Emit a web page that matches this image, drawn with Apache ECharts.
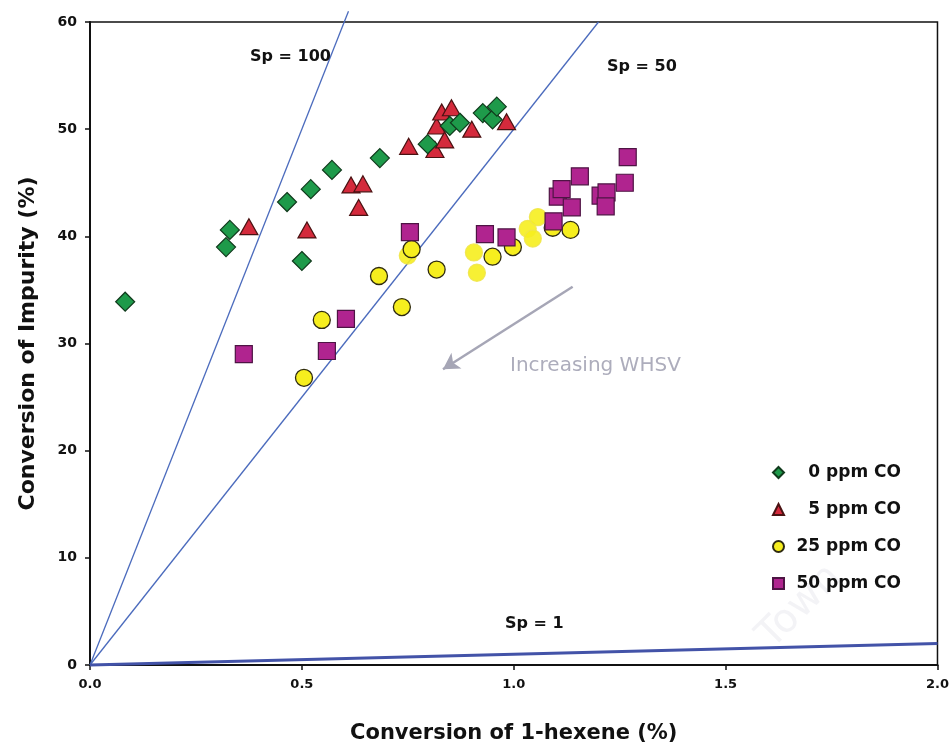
<!DOCTYPE html>
<html>
<head>
<meta charset="utf-8">
<script src="https://cdn.jsdelivr.net/npm/echarts@6/dist/echarts.min.js"></script>
<style>
  html, body { margin: 0; padding: 0; background: #fff; }
  #chart { width: 952px; height: 749px; }
</style>
</head>
<body>
<div id="chart"></div>
<script>
// Conversion of 1-hexene (x, %) vs conversion of impurity (y, %) at four CO levels
const co0ppm = [
  [0.083, 33.9], [0.321, 39.0], [0.330, 40.6], [0.465, 43.2], [0.500, 37.7],
  [0.521, 44.4], [0.571, 46.2], [0.684, 47.3], [0.797, 48.6], [0.849, 50.3],
  [0.873, 50.6], [0.927, 51.5], [0.950, 50.9], [0.960, 52.1]
];
const co5ppm = [
  [0.375, 40.9], [0.512, 40.6], [0.616, 44.8], [0.644, 44.9], [0.634, 42.7],
  [0.752, 48.4], [0.814, 48.1], [0.818, 50.3], [0.830, 51.6], [0.853, 52.0],
  [0.837, 49.0], [0.901, 50.0], [0.983, 50.7]
];
const co25ppm = [
  [0.505, 26.8], [0.547, 32.2], [0.682, 36.3], [0.736, 33.4], [0.759, 38.8],
  [0.818, 36.9], [0.950, 38.1], [0.998, 39.0], [1.092, 40.8], [1.134, 40.6]
];
// 25 ppm runs printed without an outline
const co25ppmPale = [
  [0.750, 38.2], [0.906, 38.5], [0.913, 36.6], [1.033, 40.7], [1.045, 39.8], [1.057, 41.8]
];
const co50ppm = [
  [0.363, 29.0], [0.559, 29.3], [0.604, 32.3], [0.755, 40.4], [0.932, 40.2],
  [0.983, 39.9], [1.094, 41.4], [1.104, 43.7], [1.113, 44.4], [1.156, 45.6],
  [1.137, 42.7], [1.205, 43.8], [1.219, 44.1], [1.217, 42.8], [1.262, 45.0],
  [1.269, 47.4]
];
// Constant-selectivity reference lines (end points)
const sp100Line = [[0, 0], [0.61, 61]];
const sp50Line = [[0, 0], [1.2, 60]];
const sp1Line = [[0, 0], [2.0, 2.0]];
// WHSV trend arrow (start, end)
const whsvArrow = [[1.139, 35.3], [0.833, 27.6]];

const seriesNames = ['0 ppm CO', '5 ppm CO', '25 ppm CO', '50 ppm CO'];
const xTicks = { min: 0, max: 2, step: 0.5 };
const yTicks = { min: 0, max: 60, step: 10 };

const FONT = 'DejaVu Sans, Verdana, sans-serif';
const chart = echarts.init(document.getElementById('chart'), null, { renderer: 'canvas' });

function refLine(data, width, color) {
  return {
    type: 'line', data: data, symbol: 'none', clip: false, silent: true,
    lineStyle: { width: width, color: color }, z: 1
  };
}

const option = {
  animation: false,
  backgroundColor: '#ffffff',
  grid: {
    left: 90, right: 12, top: 22, bottom: 83,
    show: true, borderColor: '#111', borderWidth: 1.5, backgroundColor: 'transparent'
  },
  legend: {
    data: seriesNames,
    orient: 'vertical',
    left: 772, top: 464, padding: 0,
    itemWidth: 11, itemHeight: 11, itemGap: 20,
    formatter: name => '{t|' + name + '}',
    textStyle: {
      rich: { t: { fontFamily: FONT, fontWeight: 'bold', fontSize: 17, color: '#111', width: 112, align: 'right' } }
    }
  },
  xAxis: {
    type: 'value', min: xTicks.min, max: xTicks.max, interval: xTicks.step,
    name: 'Conversion of 1-hexene (%)', nameLocation: 'middle', nameGap: 58,
    nameTextStyle: { fontFamily: FONT, fontWeight: 'bold', fontSize: 21, color: '#111' },
    axisLine: { show: true, onZero: false, lineStyle: { color: '#111', width: 2 } },
    axisTick: { show: true, length: 5, lineStyle: { color: '#111', width: 1.5 } },
    splitLine: { show: false },
    axisLabel: { formatter: v => v.toFixed(1), fontFamily: FONT, fontWeight: 'bold', fontSize: 13, color: '#111', margin: 13 }
  },
  yAxis: {
    type: 'value', min: yTicks.min, max: yTicks.max, interval: yTicks.step,
    name: 'Conversion of Impurity (%)', nameLocation: 'middle', nameGap: 51,
    nameTextStyle: { fontFamily: FONT, fontWeight: 'bold', fontSize: 22, color: '#111' },
    axisLine: { show: true, onZero: false, lineStyle: { color: '#111', width: 2 } },
    axisTick: { show: true, length: 5, lineStyle: { color: '#111', width: 1.5 } },
    splitLine: { show: false },
    axisLabel: { fontFamily: FONT, fontWeight: 'bold', fontSize: 14, color: '#111', margin: 13 }
  },
  series: [
    refLine(sp100Line, 1.3, '#4b6bbd'),
    refLine(sp50Line, 1.3, '#4b6bbd'),
    Object.assign(refLine(sp1Line, 3, '#4353a8'), {
      markLine: {
        silent: true, symbol: ['none', 'arrow'], symbolSize: [14, 16],
        lineStyle: { color: '#a6a6b6', width: 2.5, type: 'solid' },
        label: { show: false },
        data: [[{ coord: whsvArrow[0] }, { coord: whsvArrow[1] }]]
      }
    }),
    {
      name: '5 ppm CO', type: 'scatter', data: co5ppm, z: 3,
      symbol: 'triangle', symbolSize: [18, 16],
      itemStyle: { color: '#d42a3c', borderColor: '#4a1212', borderWidth: 1.2, opacity: 1 }
    },
    {
      name: '0 ppm CO', type: 'scatter', data: co0ppm, z: 4,
      symbol: 'diamond', symbolSize: 19,
      itemStyle: { color: '#1e9a4a', borderColor: '#103a1c', borderWidth: 1.2, opacity: 1 }
    },
    {
      name: '25 ppm CO', type: 'scatter', z: 5,
      data: co25ppmPale.map(p => ({ value: p, itemStyle: { borderColor: '#efe64a', opacity: 0.9 } }))
        .concat(co25ppm),
      symbol: 'circle', symbolSize: 17,
      itemStyle: { color: '#f6ee1e', borderColor: '#2e2a10', borderWidth: 1.3, opacity: 1 }
    },
    {
      name: '50 ppm CO', type: 'scatter', data: co50ppm, z: 6,
      symbol: 'rect', symbolSize: 17,
      itemStyle: { color: '#b0248f', borderColor: '#4e1444', borderWidth: 1.2, opacity: 1 }
    }
  ],
  graphic: [
    { type: 'text', left: 250, top: 49, z: 10, style: { text: 'Sp = 100', fontFamily: FONT, fontWeight: 'bold', fontSize: 16, fill: '#111' } },
    { type: 'text', left: 607, top: 59, z: 10, style: { text: 'Sp = 50', fontFamily: FONT, fontWeight: 'bold', fontSize: 16, fill: '#111' } },
    { type: 'text', left: 505, top: 616, z: 10, style: { text: 'Sp = 1', fontFamily: FONT, fontWeight: 'bold', fontSize: 16, fill: '#111' } },
    { type: 'text', left: 510, top: 356, z: 10, style: { text: 'Increasing WHSV', fontFamily: FONT, fontSize: 20, fill: '#adadbc' } },
    {
      type: 'text', x: 800, y: 607, rotation: Math.PI / 4, z: 0,
      style: { text: 'Town', fontFamily: FONT, fontSize: 40, fill: 'rgba(190,190,205,0.18)', align: 'center', verticalAlign: 'middle' }
    }
  ]
};

chart.setOption(option);
</script>
</body>
</html>
